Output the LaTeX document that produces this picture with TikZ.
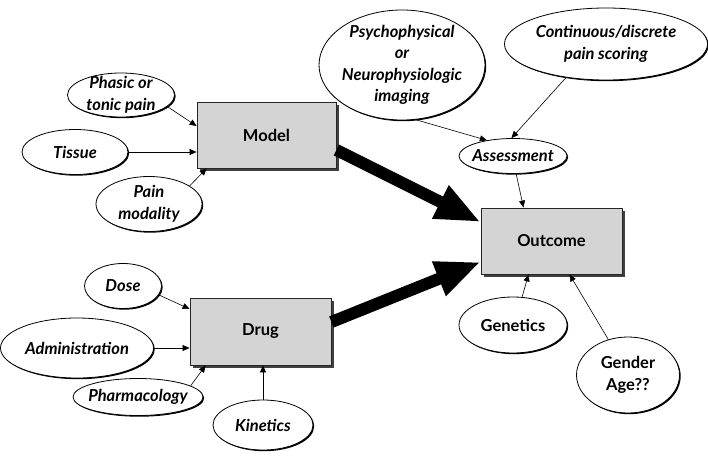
\documentclass[tikz,border=0pt]{standalone}
\usepackage{fontspec}
\setmainfont{Lato}
\usetikzlibrary{arrows.meta,shapes.geometric,shadows}
\begin{document}
\begin{tikzpicture}[x=1pt,y=-1pt,
 box/.style={rectangle, draw=black!85, line width=0.8pt, fill=black!17, inner sep=0pt,
   font=\fontsize{16.5}{18}\selectfont\bfseries,
   drop shadow={shadow xshift=3pt,shadow yshift=-3pt,fill=black!75,opacity=1}},
 oval/.style={ellipse, draw, line width=0.8pt, fill=white, inner sep=0pt,
   drop shadow={shadow xshift=1.2pt,shadow yshift=-1.2pt,fill=black,opacity=1}},
 lab/.style={align=center, inner sep=0pt, font=\fontsize{16.5}{21.5}\selectfont\bfseries\itshape},
 labup/.style={align=center, inner sep=0pt, font=\fontsize{16.5}{21.5}\selectfont\bfseries},
 thin/.style={-{Triangle[length=7pt,width=6pt]}, line width=0.6pt},
 thick/.style={-{Triangle[length=45pt,width=34pt]}, line width=12pt}]
\useasboundingbox (0,0) rectangle (708,457);

% boxes
\node[box, minimum width=139pt, minimum height=66pt] (model) at (266.5,135) {Model};
\node[box, minimum width=141pt, minimum height=67pt] (drug) at (260.5,331.5) {Drug};
\node[box, minimum width=141pt, minimum height=66pt] (outcome) at (551.5,241) {Outcome};

% ovals
\node[oval, minimum width=107pt, minimum height=44pt, label={[lab]center:Phasic or\\tonic pain}] (phasic) at (121,95) {};
\node[oval, minimum width=106pt, minimum height=45pt, label={[lab]center:Tissue}] (tissue) at (75,152) {};
\node[oval, minimum width=106pt, minimum height=55pt, label={[lab]center:Pain\\modality}] (modality) at (149,204) {};
\node[oval, minimum width=166pt, minimum height=110pt, label={[lab]center:Psychophysical\\or\\Neurophysiologic\\imaging}] (psych) at (402,65) {};
\node[oval, minimum width=203pt, minimum height=72pt, label={[lab]center:Continuous/discrete\\pain scoring}] (scoring) at (606,44) {};
\node[oval, minimum width=108pt, minimum height=35pt, label={[lab]center:Assessment}] (assess) at (513,156) {};
\node[oval, minimum width=108pt, minimum height=56pt, label={[labup]center:Genetics}] (genetics) at (513,325) {};
\node[oval, minimum width=103pt, minimum height=76pt, label={[labup]center:Gender\\Age??}] (gender) at (628,375) {};
\node[oval, minimum width=77pt, minimum height=45pt, label={[lab]center:Dose}] (dose) at (123,286) {};
\node[oval, minimum width=153pt, minimum height=60pt, label={[lab]center:Administration}] (admin) at (77,348) {};
\node[oval, minimum width=130pt, minimum height=37pt, label={[lab]center:Pharmacology}] (pharm) at (138,397) {};
\node[oval, minimum width=100pt, minimum height=50pt, label={[lab]center:Kinetics}] (kinetics) at (263,425) {};

% thin connectors
\draw[thin] (phasic.-14) -- ([yshift=9pt]model.west);
\draw[thin] (tissue.east) -- ([yshift=-17pt]model.west);
\draw[thin] (modality.24) -- ([xshift=10pt]model.south west);
\draw[thin] (psych.-76) -- (assess.149);
\draw[thin] (scoring.220) -- (assess.95);
\draw[thin] (assess.-80) -- ([xshift=-28pt]outcome.north);
\draw[thin] (genetics.72) -- ([xshift=-23pt]outcome.south);
\draw[thin] (gender.119) -- ([xshift=18pt]outcome.south);
\draw[thin] (dose.-14) -- ([yshift=22.5pt]drug.west);
\draw[thin] (admin.east) -- ([yshift=-16.5pt]drug.west);
\draw[thin] (pharm.12) -- ([xshift=16pt]drug.south west);
\draw[thin] (kinetics.north) -- (kinetics.north |- drug.south);

% thick connectors
\draw[thick] ([yshift=-15pt]model.east) -- ([yshift=19pt]outcome.west);
\draw[thick] ([yshift=9.5pt]drug.east) -- ([yshift=-21pt]outcome.west);
\end{tikzpicture}
\end{document}
